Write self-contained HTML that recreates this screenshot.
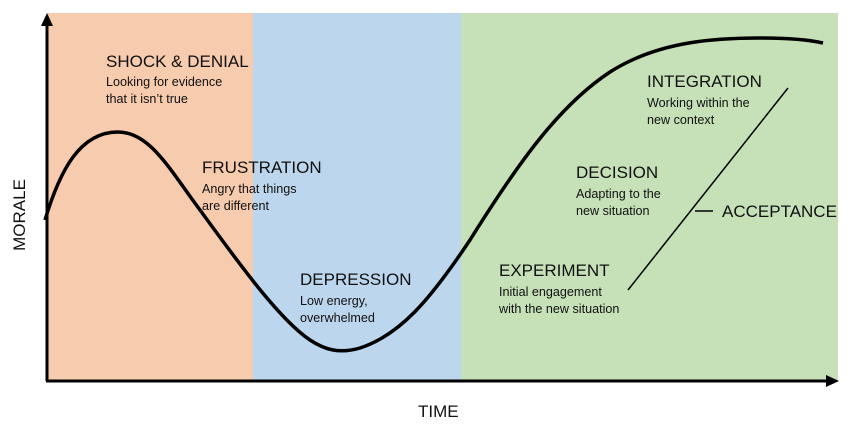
<!DOCTYPE html>
<html><head><style>
body{margin:0;width:850px;height:431px;background:#fff;overflow:hidden}
svg text{font-family:"Liberation Sans",sans-serif;fill:#111}
.h{font-size:17px}.s{font-size:12.6px}
</style></head><body>
<svg width="850" height="431" viewBox="0 0 850 431">
<rect x="47" y="13" width="206" height="368" fill="#f6cbae"/>
<rect x="253" y="13" width="208" height="368" fill="#bcd6ed"/>
<rect x="461" y="13" width="377" height="368" fill="#c6e0b7"/>
<line x1="47" y1="381" x2="47" y2="24" stroke="#000" stroke-width="3"/>
<polygon points="47,13 41,26 53,26" fill="#000"/>
<line x1="46" y1="381" x2="828" y2="381" stroke="#000" stroke-width="3"/>
<polygon points="839,381 826,375 826,387" fill="#000"/>
<path d="M45,220 C60,170 80,132 118,132 C150,132 170,170 200,210 C240,265 280,320 310,340 C325,350 340,354 360,348 C400,335 430,300 470,240 C520,160 560,105 610,72 C660,40 720,38 760,38 C790,38 810,40 823,43" fill="none" stroke="#000" stroke-width="3.5"/>
<line x1="628" y1="290" x2="788" y2="88" stroke="#000" stroke-width="1.5"/>
<line x1="695" y1="211" x2="713" y2="211" stroke="#000" stroke-width="1.5"/>
<text x="106" y="67" class="h">SHOCK &amp; DENIAL</text>
<text x="106" y="86" class="s">Looking for evidence</text>
<text x="106" y="103" class="s">that it isn’t true</text>
<text x="202" y="173" class="h">FRUSTRATION</text>
<text x="202" y="193" class="s">Angry that things</text>
<text x="202" y="210" class="s">are different</text>
<text x="300" y="285" class="h">DEPRESSION</text>
<text x="300" y="305" class="s">Low energy,</text>
<text x="300" y="322" class="s">overwhelmed</text>
<text x="499" y="276" class="h">EXPERIMENT</text>
<text x="499" y="296" class="s">Initial engagement</text>
<text x="499" y="313" class="s">with the new situation</text>
<text x="576" y="178" class="h">DECISION</text>
<text x="576" y="198" class="s">Adapting to the</text>
<text x="576" y="215" class="s">new situation</text>
<text x="647" y="87" class="h">INTEGRATION</text>
<text x="647" y="107" class="s">Working within the</text>
<text x="647" y="124" class="s">new context</text>
<text x="722" y="217" class="h">ACCEPTANCE</text>
<text x="418" y="417" class="h">TIME</text>
<text transform="translate(25,215) rotate(-90)" class="h" text-anchor="middle">MORALE</text>
</svg>
</body></html>
